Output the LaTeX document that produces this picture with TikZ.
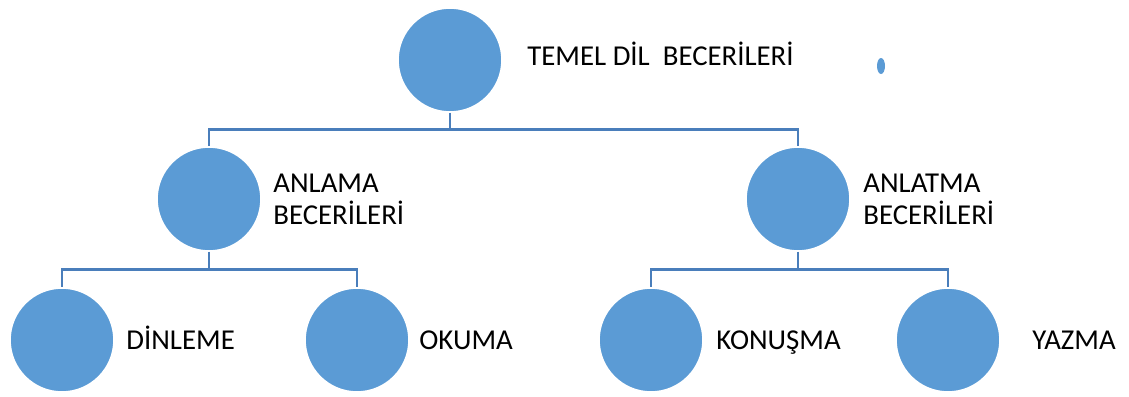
\documentclass[tikz,border=0pt]{standalone}
\usepackage{fontspec}
\setmainfont{Carlito}
\usepackage{tikz}
\usetikzlibrary{shapes, calc, positioning}

\definecolor{circfill}{HTML}{5B9BD5}
\definecolor{linkblue}{HTML}{4A7EBB}

\begin{document}
\begin{tikzpicture}[x=0.5pt, y=-0.5pt]
    \tikzstyle{format} = [draw=white, line width=0.8pt, circle, fill=circfill,
	minimum size=52pt, inner sep=0pt]
    \tikzstyle{txt} = [inner sep=0pt, font=\fontsize{14.4}{16}\selectfont]
    \tikzstyle{link} = [linkblue, line width=1.25pt]

    \useasboundingbox (0,0) rectangle (1129,396);

		\path
			node[format] (1) at (450,60) {}
			node[format] (2) at (209,199) {}
			node[format] (3) at (798,199) {}
			node[format] (4) at (62,340) {}
			node[format] (5) at (357,340) {}
			node[format] (6) at (651,340) {}
			node[format] (7) at (948,340) {}
			node[ellipse, fill=circfill, minimum width=4pt, minimum height=8pt,
				inner sep=0pt] (8) at (881,66) {}
		;

		\path
			node[txt, anchor=base west] (t1) at (527,65) {TEMEL DİL\ \ BECERİLERİ}
			node[txt, anchor=north west, align=left] (t2) at (273,174) {ANLAMA\\BECERİLERİ}
			node[txt, anchor=north west, align=left] (t3) at (863,174) {ANLATMA\\BECERİLERİ}
			node[txt, anchor=base west] (t4) at (126,349) {DİNLEME}
			node[txt, anchor=base west] (t5) at (419,349) {OKUMA}
			node[txt, anchor=base west] (t6) at (716,349) {KONUŞMA}
			node[txt, anchor=base west] (t7) at (1032,349) {YAZMA}
		;

		\draw[link] (1.south) |- ($(1.south)!.5!(2.north)$) -| (2.north);
		\draw[link] (1.south) |- ($(1.south)!.5!(3.north)$) -| (3.north);
		\draw[link] (2.south) |- ($(2.south)!.5!(4.north)$) -| (4.north);
		\draw[link] (2.south) |- ($(2.south)!.5!(5.north)$) -| (5.north);
		\draw[link] (3.south) |- ($(3.south)!.5!(6.north)$) -| (6.north);
		\draw[link] (3.south) |- ($(3.south)!.5!(7.north)$) -| (7.north);

\end{tikzpicture}
\end{document}
